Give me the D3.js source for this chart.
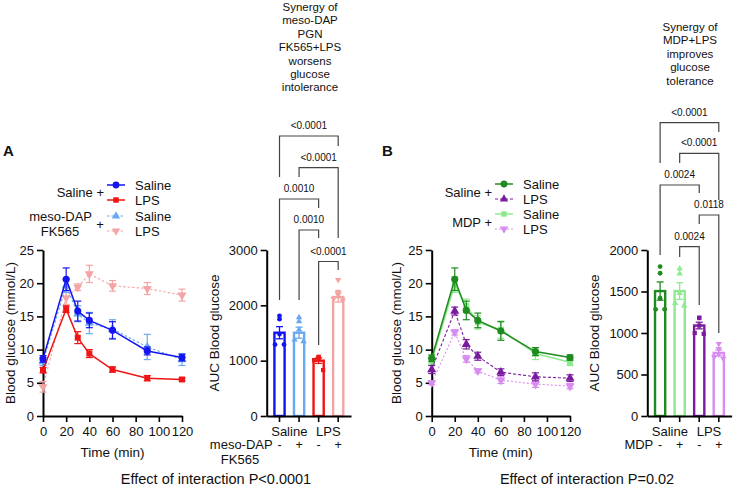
<!DOCTYPE html>
<html><head><meta charset="utf-8">
<script src="https://cdn.jsdelivr.net/npm/d3@7"></script>
<style>
body{margin:0;background:#fff}
svg{display:block}
text{font-family:"Liberation Sans",Arial,Helvetica,sans-serif;fill:#111}
</style>
</head><body>
<svg id="c" width="736" height="490"></svg>
<script>
// ---------------- DATA ----------------
const times = [0, 20, 30, 40, 60, 90, 120];
const xTicks = [0, 20, 40, 60, 80, 100, 120];
const yTicksLine = [0, 5, 10, 15, 20, 25];

// Panel A (OGTT)
const A_salSal = [8.6, 20.6, 15.8, 14.4, 12.9, 9.8, 8.8];
const A_salSal_sem = [0.5, 1.7, 1.5, 1.1, 1.3, 0.6, 0.5];
const A_salLPS = [6.9, 16.1, 11.8, 9.4, 7.0, 5.7, 5.5];
const A_salLPS_sem = [0.4, 0.5, 0.9, 0.6, 0.4, 0.4, 0.2];
const A_dapSal = [8.2, 19.6, 15.4, 14.0, 13.1, 10.4, 8.5];
const A_dapSal_sem = [0.6, 1.0, 1.2, 1.6, 1.4, 1.9, 0.9];
const A_dapLPS = [4.4, 17.8, 19.4, 21.4, 19.6, 19.2, 18.2];
const A_dapLPS_sem = [0.8, 1.0, 0.5, 1.3, 0.8, 0.9, 0.9];

// Panel B (OGTT)
const B_salSal = [8.7, 20.6, 15.9, 14.4, 12.8, 9.7, 8.8];
const B_salSal_sem = [0.5, 1.7, 1.4, 1.1, 1.4, 0.6, 0.4];
const B_salLPS = [7.0, 15.8, 10.8, 9.0, 6.6, 5.9, 5.7];
const B_salLPS_sem = [0.6, 0.6, 0.7, 0.6, 0.5, 0.6, 0.5];
const B_mdpSal = [8.3, 19.8, 16.6, 14.1, 13.0, 9.4, 8.1];
const B_mdpSal_sem = [0.5, 1.2, 1.0, 1.0, 1.3, 0.9, 0.5];
const B_mdpLPS = [5.0, 12.6, 8.6, 6.8, 5.4, 4.8, 4.5];
const B_mdpLPS_sem = [0.3, 0.4, 0.5, 0.3, 0.5, 0.5, 0.4];

// AUC bars
const barCatsA = ["Saline", "Saline+DAP", "LPS", "LPS+DAP"];
const aucMeansA = [1505, 1505, 1000, 2150];
const aucSemA = [110, 100, 50, 90];
const aucPointsA = [
  [1810, 1750, 1480, 1290, 1290],
  [1780, 1710, 1560, 1380, 1350],
  [1070, 1060, 1050, 1010, 830],
  [2460, 2250, 2190, 2120, 2090]
];
const barCatsB = ["Saline", "Saline+MDP", "LPS", "LPS+MDP"];
const aucMeansB = [1505, 1505, 1090, 760];
const aucSemB = [110, 100, 40, 35];
const aucPointsB = [
  [1800, 1720, 1420, 1285, 1285],
  [1775, 1715, 1480, 1360, 1330],
  [1185, 1180, 1090, 1000, 990],
  [870, 810, 745, 712, 692]
];
const groupLabels = ["Saline", "LPS"];
const signLabels = ["-", "+", "-", "+"];
const yTicksBarA = [0, 1000, 2000, 3000];
const yTicksBarB = [0, 500, 1000, 1500, 2000];

// Comparisons [barIndex1, barIndex2, p-label]
const compA = [[0, 3, "<0.0001"], [1, 3, "<0.0001"], [0, 2, "0.0010"], [1, 2, "0.0010"], [2, 3, "<0.0001"]];
const compB = [[0, 3, "<0.0001"], [1, 3, "<0.0001"], [0, 2, "0.0024"], [2, 3, "0.0118"], [1, 2, "0.0024"]];

const titleA = ["Synergy of", "meso-DAP", "PGN", "FK565+LPS", "worsens", "glucose", "intolerance"];
const titleB = ["Synergy of", "MDP+LPS", "improves", "glucose", "tolerance"];
const effectA = "Effect of interaction P<0.0001";
const effectB = "Effect of interaction P=0.02";

// ---------------- STYLE ----------------
const C = {
  blue: "#1414f0", red: "#f01414", lblue: "#6aa8f2", pink: "#f4a4a4",
  dgreen: "#1f8a1f", purple: "#7a1a9e", lgreen: "#8eea8e", violet: "#d98cf0"
};
const svg = d3.select("#c");
const Y0 = 416, YTOP = 250;

function symbolPath(shape, size) {
  const t = {circle: d3.symbolCircle, square: d3.symbolSquare, up: d3.symbolTriangle, down: d3.symbolTriangle}[shape];
  return d3.symbol().type(t).size(size)();
}
function drawSym(g, shape, x, y, size, color) {
  g.append("path").attr("d", symbolPath(shape, size))
    .attr("transform", `translate(${x},${y})` + (shape === "down" ? " rotate(180)" : ""))
    .attr("fill", color);
}
function styleAxis(sel) {
  sel.selectAll("path.domain").attr("stroke", "#000").attr("stroke-width", 2);
  sel.selectAll(".tick line").attr("stroke", "#000").attr("stroke-width", 1.6);
  sel.selectAll(".tick text").attr("font-size", 13).attr("fill", "#111")
    .style("font-family", '"Liberation Sans",Arial,sans-serif');
}

function drawLinePanel(o) {
  const x = d3.scaleLinear().domain([0, 120]).range(o.xr);
  const y = d3.scaleLinear().domain([0, 25]).range([Y0, YTOP]);
  const g = svg.append("g");
  const ax = g.append("g").attr("transform", `translate(0,${Y0})`)
    .call(d3.axisBottom(x).tickValues(xTicks).tickSize(6).tickPadding(5).tickSizeOuter(0));
  styleAxis(ax);
  const ay = g.append("g").attr("transform", `translate(${o.xr[0]},0)`)
    .call(d3.axisLeft(y).tickValues(yTicksLine).tickSize(6).tickPadding(3).tickSizeOuter(0));
  styleAxis(ay);
  g.append("text").attr("x", (o.xr[0] + o.xr[1]) / 2).attr("y", 457).attr("text-anchor", "middle")
    .attr("font-size", 13.5).text("Time (min)");
  g.append("text").attr("transform", `translate(${o.ylx},333) rotate(-90)`).attr("text-anchor", "middle")
    .attr("dominant-baseline", "middle").attr("font-size", 13.5).text("Blood glucose (mmol/L)");

  const line = d3.line().x((d, i) => x(times[i])).y(d => y(d));
  o.series.forEach(s => {
    const sg = g.append("g");
    sg.append("path").attr("d", line(s.v)).attr("fill", "none").attr("stroke", s.c)
      .attr("stroke-width", s.dash ? 1.1 : 1.5).attr("stroke-dasharray", s.dash || null);
    s.v.forEach((v, i) => {
      const cx = x(times[i]), e = s.e[i];
      sg.append("line").attr("x1", cx).attr("x2", cx).attr("y1", y(v - e)).attr("y2", y(v + e))
        .attr("stroke", s.c).attr("stroke-width", 1.2);
      [v - e, v + e].forEach(w => sg.append("line").attr("x1", cx - 3.5).attr("x2", cx + 3.5)
        .attr("y1", y(w)).attr("y2", y(w)).attr("stroke", s.c).attr("stroke-width", 1.2));
      drawSym(sg, s.shape, cx, y(v), s.shape === "circle" ? 40 : 36, s.c);
    });
  });
}

function drawBarPanel(o) {
  const x = d3.scaleBand().domain(o.cats).range(o.xr).paddingInner(0.48).paddingOuter(0.395);
  const y = d3.scaleLinear().domain([0, o.ymax]).range([Y0, YTOP]);
  const g = svg.append("g");
  const cx = i => x(o.cats[i]) + x.bandwidth() / 2;
  const offs = [0, 0, 0, -4.5, 4.5];
  o.cats.forEach((c, i) => {
    const col = o.colors[i];
    g.append("rect").attr("x", x(c)).attr("width", x.bandwidth())
      .attr("y", y(o.means[i])).attr("height", Y0 - y(o.means[i]))
      .attr("fill", "#fff").attr("stroke", col).attr("stroke-width", 2.4);
    const m = o.means[i], e = o.sem[i];
    g.append("line").attr("x1", cx(i)).attr("x2", cx(i)).attr("y1", y(m - e)).attr("y2", y(m + e))
      .attr("stroke", col).attr("stroke-width", 1.3);
    [m - e, m + e].forEach(w => g.append("line").attr("x1", cx(i) - 3.5).attr("x2", cx(i) + 3.5)
      .attr("y1", y(w)).attr("y2", y(w)).attr("stroke", col).attr("stroke-width", 1.3));
    o.points[i].forEach((p, j) => drawSym(g, o.shapes[i], cx(i) + offs[j], y(p), 18, col));
  });
  const ax = g.append("g").attr("transform", `translate(0,${Y0})`)
    .call(d3.axisBottom(x).tickFormat("").tickSize(6).tickSizeOuter(0));
  styleAxis(ax);
  const ay = g.append("g").attr("transform", `translate(${o.xr[0]},0)`)
    .call(d3.axisLeft(y).tickValues(o.yticks).tickFormat(d3.format("d")).tickSize(6).tickPadding(3).tickSizeOuter(0));
  styleAxis(ay);
  g.append("text").attr("transform", `translate(${o.ylx},333) rotate(-90)`).attr("text-anchor", "middle")
    .attr("dominant-baseline", "middle").attr("font-size", 13.5).text("AUC Blood glucose");
  groupLabels.forEach((t, k) => g.append("text").attr("x", (cx(2 * k) + cx(2 * k + 1)) / 2).attr("y", 435.5)
    .attr("text-anchor", "middle").attr("font-size", 13).text(t));
  signLabels.forEach((t, i) => g.append("text").attr("x", cx(i)).attr("y", 449)
    .attr("text-anchor", "middle").attr("font-size", 12.5).text(t));
  o.rowLabel.forEach((t, k) => g.append("text").attr("x", k === 0 ? o.xr[0] + 6 : o.rowLabelX2)
    .attr("y", 449 + k * 15).attr("text-anchor", k === 0 ? "end" : "middle").attr("font-size", 13).text(t));

  // significance brackets
  o.comps.forEach((cmp, k) => {
    const L = o.layout[k];
    const x1 = cx(cmp[0]), x2 = cx(cmp[1]);
    g.append("path").attr("d", `M${x1},${L[1]}V${L[0]}H${x2}V${L[2]}`)
      .attr("fill", "none").attr("stroke", "#444").attr("stroke-width", 1.2);
    g.append("text").attr("x", (x1 + x2) / 2).attr("y", L[0] - 7).attr("text-anchor", "middle")
      .attr("font-size", 10).text(cmp[2]);
  });
  o.title.forEach((t, k) => g.append("text").attr("x", o.titleX).attr("y", o.titleY + k * 13.4)
    .attr("text-anchor", "middle").attr("font-size", 11.5).attr("fill", "#222").text(t));
}

function drawLegend(o) {
  const g = svg.append("g");
  o.items.forEach((s, k) => {
    const yy = o.ys[k];
    g.append("line").attr("x1", o.lx).attr("x2", o.lx + 18).attr("y1", yy).attr("y2", yy)
      .attr("stroke", s.c).attr("stroke-width", s.dash ? 1.1 : 1.5).attr("stroke-dasharray", s.dash || null);
    drawSym(g, s.shape, o.lx + 9, yy, s.shape === "circle" ? 36 : 30, s.c);
    g.append("text").attr("x", o.lx + 28).attr("y", yy).attr("dominant-baseline", "central")
      .attr("font-size", 13).text(s.name);
  });
  o.groups.forEach(gr => {
    gr.lines.forEach((t, k) => g.append("text").attr("x", gr.x).attr("y", gr.y + k * 15)
      .attr("text-anchor", gr.anchor).attr("dominant-baseline", "central").attr("font-size", 13).text(t));
  });
}

// ---------------- PANEL A ----------------
const seriesA = [
  {v: A_dapLPS, e: A_dapLPS_sem, c: C.pink, shape: "down", dash: "2.5,2", name: "LPS"},
  {v: A_dapSal, e: A_dapSal_sem, c: C.lblue, shape: "up", dash: "2.5,2", name: "Saline"},
  {v: A_salLPS, e: A_salLPS_sem, c: C.red, shape: "square", name: "LPS"},
  {v: A_salSal, e: A_salSal_sem, c: C.blue, shape: "circle", name: "Saline"}
];
drawLinePanel({xr: [43, 182], ylx: 11, series: seriesA});
drawLegend({
  lx: 107, ys: [185, 200, 216, 231],
  items: [seriesA[3], seriesA[2], seriesA[1], seriesA[0]],
  groups: [
    {x: 104, y: 192.5, anchor: "end", lines: ["Saline +"]},
    {x: 92, y: 216.5, anchor: "end", lines: ["meso-DAP"]},
    {x: 60, y: 231.5, anchor: "middle", lines: ["FK565"]},
    {x: 100, y: 224.5, anchor: "middle", lines: ["+"]}
  ]
});
drawBarPanel({
  cats: barCatsA, xr: [266.7, 351], ymax: 3000, yticks: yTicksBarA, ylx: 215,
  means: aucMeansA, sem: aucSemA, points: aucPointsA,
  colors: [C.blue, C.lblue, C.red, C.pink], shapes: ["circle", "up", "square", "down"],
  rowLabel: ["meso-DAP", "FK565"], rowLabelX2: 240,
  comps: compA,
  layout: [[136, 177, 146], [167.7, 177, 238], [199, 300, 208], [230, 300, 238], [261.5, 345, 270]],
  title: titleA, titleX: 310, titleY: 11
});
svg.append("text").attr("x", 3).attr("y", 156).attr("font-size", 15).attr("font-weight", "bold").text("A");
svg.append("text").attr("x", 216).attr("y", 484).attr("text-anchor", "middle").attr("font-size", 14.5).text(effectA);

// ---------------- PANEL B ----------------
const seriesB = [
  {v: B_mdpLPS, e: B_mdpLPS_sem, c: C.violet, shape: "down", dash: "2,2", name: "LPS"},
  {v: B_mdpSal, e: B_mdpSal_sem, c: C.lgreen, shape: "square", name: "Saline"},
  {v: B_salLPS, e: B_salLPS_sem, c: C.purple, shape: "up", dash: "3,2", name: "LPS"},
  {v: B_salSal, e: B_salSal_sem, c: C.dgreen, shape: "circle", name: "Saline"}
];
drawLinePanel({xr: [431.7, 570], ylx: 397, series: seriesB});
drawLegend({
  lx: 495, ys: [184, 199, 214, 229],
  items: [seriesB[3], seriesB[2], seriesB[1], seriesB[0]],
  groups: [
    {x: 492, y: 192, anchor: "end", lines: ["Saline +"]},
    {x: 492, y: 222, anchor: "end", lines: ["MDP +"]}
  ]
});
drawBarPanel({
  cats: barCatsB, xr: [647.3, 731.6], ymax: 2000, yticks: yTicksBarB, ylx: 595,
  means: aucMeansB, sem: aucSemB, points: aucPointsB,
  colors: [C.dgreen, C.lgreen, C.purple, C.violet], shapes: ["circle", "up", "square", "down"],
  rowLabel: ["MDP"], rowLabelX2: 0,
  comps: compB,
  layout: [[122.7, 163, 132], [153.3, 163, 200], [185, 255, 193], [215, 224, 333], [246.7, 257, 305]],
  title: titleB, titleX: 690, titleY: 31
});
svg.append("text").attr("x", 382).attr("y", 156).attr("font-size", 15).attr("font-weight", "bold").text("B");
svg.append("text").attr("x", 587).attr("y", 484).attr("text-anchor", "middle").attr("font-size", 14.5).text(effectB);
</script>
</body></html>
